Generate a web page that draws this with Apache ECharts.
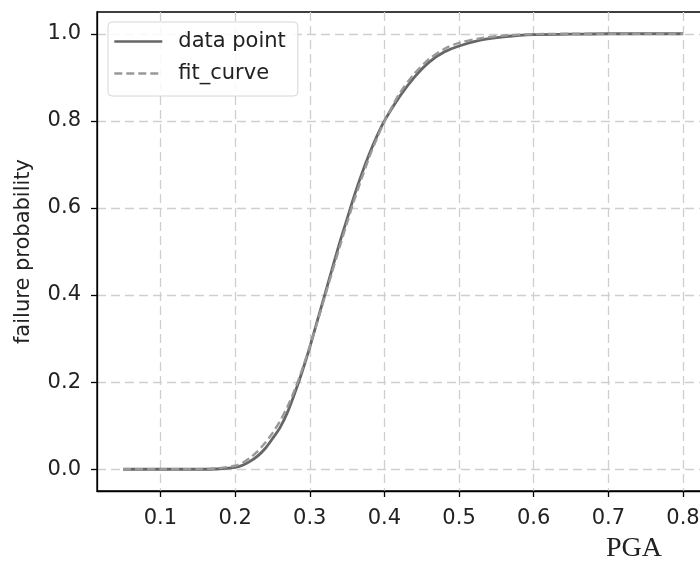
<!DOCTYPE html>
<html>
<head>
<meta charset="utf-8">
<script src="https://cdn.jsdelivr.net/npm/echarts@6/dist/echarts.min.js"></script>
<style>
html,body{margin:0;padding:0;background:#fff;overflow:hidden;width:700px;height:561px;}
#chart{width:720px;height:561px;}
</style>
</head>
<body>
<div id="chart"></div>
<script>
// ---- data ----
var pga = [0.05, 0.10, 0.15, 0.175, 0.20, 0.21, 0.22, 0.23, 0.24, 0.25, 0.26, 0.27, 0.28, 0.29, 0.30,
           0.31, 0.32, 0.33, 0.34, 0.35, 0.36, 0.37, 0.38, 0.39, 0.40, 0.42, 0.44, 0.46, 0.48, 0.50,
           0.53, 0.56, 0.60, 0.65, 0.70, 0.75, 0.80];
var dataPoint = [0, 0, 0, 0.0005, 0.004, 0.009, 0.018, 0.03, 0.047, 0.07, 0.095, 0.13, 0.175, 0.225, 0.28,
                 0.34, 0.40, 0.46, 0.52, 0.575, 0.63, 0.68, 0.725, 0.765, 0.80, 0.855, 0.90, 0.935, 0.958, 0.972,
                 0.986, 0.993, 0.998, 0.999, 1.0, 1.0, 1.0];
var fitCurve = [0, 0, 0.0003, 0.002, 0.008, 0.015, 0.026, 0.041, 0.06, 0.083, 0.11, 0.143, 0.183, 0.23, 0.282,
                0.337, 0.395, 0.453, 0.51, 0.566, 0.62, 0.67, 0.718, 0.76, 0.798, 0.862, 0.908, 0.942, 0.965, 0.979,
                0.99, 0.996, 0.999, 1.0, 1.0, 1.0, 1.0];
var xTicks = [0.1, 0.2, 0.3, 0.4, 0.5, 0.6, 0.7, 0.8];
var yTicks = [0.0, 0.2, 0.4, 0.6, 0.8, 1.0];
var seriesNames = ['data point', 'fit_curve'];
var xName = 'PGA';
var yName = 'failure probability';

function pairs(xs, ys) { return xs.map(function (x, i) { return [x, ys[i]]; }); }

var FONT = 'DejaVu Sans';
var chart = echarts.init(document.getElementById('chart'), null, {renderer: 'canvas', width: 720, height: 561});
chart.setOption({
  backgroundColor: '#ffffff',
  animation: false,
  grid: {left: 97, top: 12, right: 9, bottom: 70, show: true, borderColor: '#000', borderWidth: 1.3, backgroundColor: 'transparent'},
  legend: {
    left: 108, top: 22, orient: 'vertical',
    data: seriesNames,
    itemWidth: 48, itemHeight: 14, itemGap: 11,
    padding: [9, 12, 12, 5],
    borderColor: '#d6d6d6', borderWidth: 1, borderRadius: 4,
    backgroundColor: 'rgba(255,255,255,0.85)',
    itemStyle: {opacity: 0},
    lineStyle: {width: 2.6},
    textStyle: {fontFamily: FONT, fontSize: 21, color: '#222', padding: [0, 0, 0, 11]}
  },
  xAxis: {
    type: 'value', min: 0.015, max: 0.8375,
    axisLine: {show: true, onZero: false, lineStyle: {color: '#000', width: 1.3}},
    axisTick: {show: true, length: 6, lineStyle: {color: '#000', width: 1.3}, customValues: xTicks},
    axisLabel: {customValues: xTicks, fontFamily: FONT, fontSize: 21, color: '#222', margin: 17,
                formatter: function (v) { return v.toFixed(1); }},
    splitLine: {show: true, lineStyle: {color: '#cfcfcf', width: 1.3, type: [9, 5]}}
  },
  yAxis: {
    type: 'value', min: -0.05, max: 1.05,
    name: yName, nameLocation: 'middle', nameGap: 63, nameRotate: 90,
    nameTextStyle: {fontFamily: FONT, fontSize: 21, color: '#222'},
    axisLine: {show: true, onZero: false, lineStyle: {color: '#000', width: 1.3}},
    axisTick: {show: true, length: 6, lineStyle: {color: '#000', width: 1.3}, customValues: yTicks},
    axisLabel: {customValues: yTicks, fontFamily: FONT, fontSize: 21, color: '#222', margin: 16,
                formatter: function (v) { return v.toFixed(1); }},
    splitLine: {show: true, lineStyle: {color: '#cfcfcf', width: 1.3, type: [9, 5]}}
  },
  graphic: [{
    type: 'text', left: 606, top: 535,
    style: {text: xName, fontFamily: 'Liberation Serif', fontSize: 28, fill: '#222'}
  }],
  series: [
    {name: seriesNames[0], type: 'line', data: pairs(pga, dataPoint), symbol: 'none', smooth: 0.3,
     lineStyle: {color: '#666666', width: 2.8, type: 'solid'}, itemStyle: {color: '#666666'}, z: 3},
    {name: seriesNames[1], type: 'line', data: pairs(pga, fitCurve), symbol: 'none', smooth: 0.3,
     lineStyle: {color: '#999999', width: 2.4, type: [8, 4]}, itemStyle: {color: '#999999'}, z: 4}
  ]
});
</script>
</body>
</html>
